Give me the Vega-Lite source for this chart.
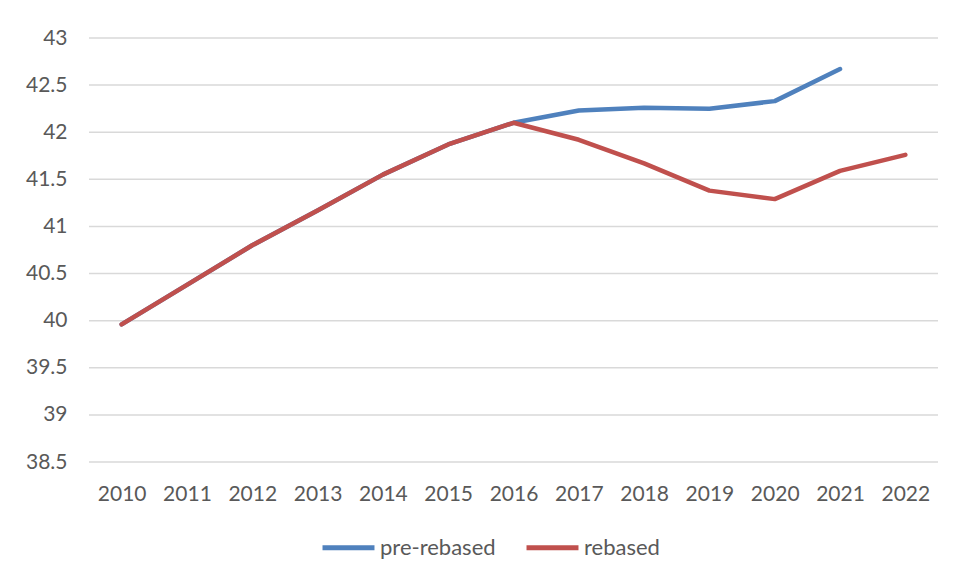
{
  "$schema": "https://vega.github.io/schema/vega-lite/v6.json",
  "autosize": "none",
  "width": 849,
  "height": 424,
  "padding": {"left": 89, "top": 38, "right": 19, "bottom": 116},
  "background": "white",
  "config": {
    "view": {"stroke": null},
    "font": "Lato",
    "axis": {"labelFont": "Lato", "labelColor": "#595959", "labelFontSize": 21, "ticks": false, "domain": false, "grid": false},
    "legend": {"labelFont": "Lato", "labelColor": "#595959", "labelFontSize": 22}
  },
  "data": {
    "values": [
      {"year": "2010", "series": "pre-rebased", "value": 39.96},
      {"year": "2011", "series": "pre-rebased", "value": 40.38},
      {"year": "2012", "series": "pre-rebased", "value": 40.80},
      {"year": "2013", "series": "pre-rebased", "value": 41.17},
      {"year": "2014", "series": "pre-rebased", "value": 41.55},
      {"year": "2015", "series": "pre-rebased", "value": 41.87},
      {"year": "2016", "series": "pre-rebased", "value": 42.10},
      {"year": "2017", "series": "pre-rebased", "value": 42.23},
      {"year": "2018", "series": "pre-rebased", "value": 42.26},
      {"year": "2019", "series": "pre-rebased", "value": 42.25},
      {"year": "2020", "series": "pre-rebased", "value": 42.33},
      {"year": "2021", "series": "pre-rebased", "value": 42.67},
      {"year": "2010", "series": "rebased", "value": 39.96},
      {"year": "2011", "series": "rebased", "value": 40.38},
      {"year": "2012", "series": "rebased", "value": 40.80},
      {"year": "2013", "series": "rebased", "value": 41.17},
      {"year": "2014", "series": "rebased", "value": 41.55},
      {"year": "2015", "series": "rebased", "value": 41.87},
      {"year": "2016", "series": "rebased", "value": 42.10},
      {"year": "2017", "series": "rebased", "value": 41.92},
      {"year": "2018", "series": "rebased", "value": 41.67},
      {"year": "2019", "series": "rebased", "value": 41.38},
      {"year": "2020", "series": "rebased", "value": 41.29},
      {"year": "2021", "series": "rebased", "value": 41.59},
      {"year": "2022", "series": "rebased", "value": 41.76}
    ]
  },
  "layer": [
    {
      "mark": {"type": "rule", "color": "#d9d9d9", "strokeWidth": 1.5},
      "data": {"values": [{"g": 38.5}, {"g": 39}, {"g": 39.5}, {"g": 40}, {"g": 40.5}, {"g": 41}, {"g": 41.5}, {"g": 42}, {"g": 42.5}, {"g": 43}]},
      "encoding": {
        "y": {"field": "g", "type": "quantitative", "scale": {"domain": [38.5, 43]}}
      }
    },
    {
      "mark": {"type": "line", "strokeWidth": 4.5, "strokeCap": "round", "strokeJoin": "round"},
      "encoding": {
        "x": {"field": "year", "type": "ordinal", "scale": {"type": "point", "padding": 0.5}, "axis": {"title": null, "labelAngle": 0, "labelPadding": 21}},
        "y": {"field": "value", "type": "quantitative", "scale": {"domain": [38.5, 43]}, "axis": {"title": null, "values": [38.5, 39, 39.5, 40, 40.5, 41, 41.5, 42, 42.5, 43], "format": "~g", "labelPadding": 22}},
        "color": {
          "field": "series", "type": "nominal",
          "scale": {"domain": ["pre-rebased", "rebased"], "range": ["#4F81BD", "#C0504D"]},
          "legend": {"title": null, "orient": "none", "direction": "horizontal", "legendX": 231, "legendY": 481, "symbolType": "stroke", "symbolSize": 2700, "symbolStrokeWidth": 5, "labelOffset": 3, "columnPadding": 20}
        },
        "order": {"field": "series"}
      }
    }
  ]
}
